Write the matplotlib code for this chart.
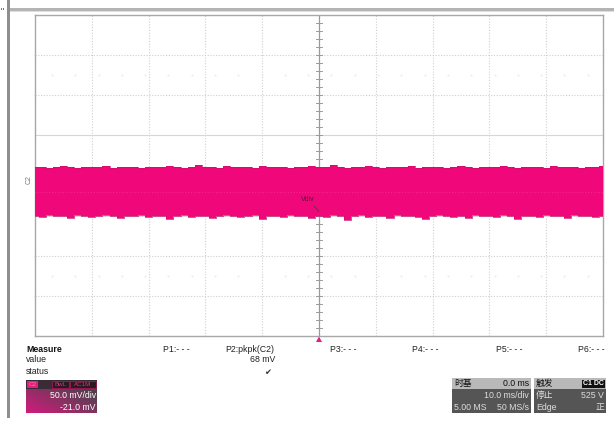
import numpy as np
import matplotlib
matplotlib.use("Agg")
import matplotlib.pyplot as plt
from matplotlib.patches import Rectangle, Polygon

plt.rcParams['font.family'] = ['Liberation Sans', 'Noto Sans CJK SC', 'DejaVu Sans']

time_ms_per_div = 10.0
volt_mv_per_div = 50.0
n_xdiv = 10
n_ydiv = 8
# envelope of the noisy C2 trace (mV), sampled across the 100 ms screen
time_ms = np.linspace(-50, 50, 81)
upper_mv = [10, 11, 9, 10, 12, 10, 9, 11, 10, 10, 12, 9, 10, 11, 10, 9, 11, 10, 10, 12,
            11, 9, 10, 13, 11, 10, 9, 12, 10, 11, 10, 9, 12, 10, 11, 10, 9, 10, 11, 12,
            10, 11, 13, 10, 9, 11, 10, 12, 10, 9, 11, 10, 10, 12, 9, 10, 11, 10, 9, 11,
            12, 10, 9, 11, 10, 10, 12, 11, 9, 10, 11, 10, 9, 12, 10, 11, 10, 9, 11, 10, 12]
lower_mv = [-50, -52, -49, -51, -50, -53, -49, -50, -52, -51, -49, -50, -53, -51, -50, -49, -52, -50, -51, -54,
            -50, -49, -52, -50, -51, -53, -50, -49, -51, -52, -50, -49, -54, -51, -50, -52, -49, -51, -50, -53,
            -50, -52, -49, -51, -55, -50, -49, -52, -51, -50, -53, -49, -51, -50, -52, -54, -50, -49, -51, -52,
            -50, -53, -49, -51, -50, -52, -49, -50, -54, -51, -50, -52, -49, -51, -50, -53, -49, -51, -50, -52, -50]
measure_labels = ["P1:- - -", "P2:pkpk(C2)", "P3:- - -", "P4:- - -", "P5:- - -", "P6:- - -"]
p2_value = "68 mV"
ch_scale = "50.0 mV/div"
ch_offset = "-21.0 mV"

W, H = 614, 424
fig = plt.figure(figsize=(W / 100, H / 100), dpi=100)
fig.patch.set_facecolor('white')

# ---- main graticule axes ----
L, T, R, B = 35, 15, 603, 336
ax = fig.add_axes([L / W, (H - B) / H, (R - L) / W, (B - T) / H])
xmax = n_xdiv / 2 * time_ms_per_div
ymax = n_ydiv / 2 * volt_mv_per_div
ax.set_xlim(-xmax, xmax)
ax.set_ylim(-ymax, ymax)
ax.set_xticks([]); ax.set_yticks([])
for s in ax.spines.values():
    s.set_color('#a8a8a8'); s.set_linewidth(1.0)

grid_c = '#cfcfcf'
for i in range(1, n_xdiv):
    x = -xmax + i * time_ms_per_div
    if abs(x) < 1e-9:
        continue
    ax.axvline(x, color=grid_c, lw=0.8, ls=(0, (1, 1.5)), zorder=1)
for j in range(1, n_ydiv):
    y = -ymax + j * volt_mv_per_div
    if abs(y) < 1e-9:
        continue
    if abs(y) == volt_mv_per_div:
        ax.axhline(y, color='#d6d6d6', lw=0.8, zorder=1)
    else:
        ax.axhline(y, color=grid_c, lw=0.8, ls=(0, (1, 1.5)), zorder=1)
# centre axes with minor ticks
ax.axvline(0, color='#9a9a9a', lw=0.9, zorder=1)
ax.axhline(0, color='#9a9a9a', lw=0.9, zorder=1)
for yy in np.arange(-ymax, ymax + 1, volt_mv_per_div / 5):
    ax.plot([-0.5, 0.5], [yy, yy], color='#9a9a9a', lw=0.7, zorder=1)
for xx in np.arange(-xmax, xmax + 0.1, time_ms_per_div / 5):
    ax.plot([xx, xx], [-3, 3], color='#9a9a9a', lw=0.7, zorder=1)

# faint marker rows
for yy in (ymax - 1.5 * volt_mv_per_div, -ymax + 1.5 * volt_mv_per_div):
    for xx in np.arange(-xmax + 3, xmax, 4.1):
        ax.plot(xx, yy, marker='.', ms=1.0, color='#ebebeb', zorder=1)

# trace
ax.fill_between(time_ms, lower_mv, upper_mv, step='mid', color='#f0087a', lw=0, zorder=3)
ax.step(time_ms, upper_mv, where='mid', color='#c8106a', lw=0.5, zorder=3.5)
ax.step(time_ms, lower_mv, where='mid', color='#c8106a', lw=0.5, zorder=3.5)
ax.axhline(-21, xmin=0, xmax=1, color='#f5479a', lw=0.5, ls=(0, (1, 3)), zorder=4)

# cursor note
ax.annotate("Vdiv", xy=(0, -45), xytext=(-0.7, -30), fontsize=5, color='#402030',
            ha='right', va='center', zorder=5,
            arrowprops=dict(arrowstyle='-', color='#503040', lw=0.5, shrinkA=0, shrinkB=0))

# ---- overlay in pixel coordinates ----
ov = fig.add_axes([0, 0, 1, 1])
ov.set_xlim(0, W); ov.set_ylim(H, 0)
ov.axis('off')
ov.patch.set_visible(False)

# window frame bars
ov.add_patch(Rectangle((8, 7.5), W - 8, 3, color='#b4b4b4', lw=0))
ov.add_patch(Rectangle((8, 11), W - 8, 1, color='#dedede', lw=0))
ov.add_patch(Rectangle((7, 0), 3, 418, color='#8e8e8e', lw=0))
ov.add_patch(Rectangle((0.5, 8), 1.5, 2, color='#777777', lw=0))
ov.add_patch(Rectangle((2.8, 8), 1.5, 2, color='#777777', lw=0))

# channel label
ov.text(29.5, 180, "C2", rotation=90, fontsize=5, color='#777777', ha='center', va='center')
# trigger position marker
ov.add_patch(Polygon([[316, 342], [322, 342], [319, 336.5]], closed=True, color='#e02080', lw=0))

fs = 6.3
ov.text(26, 349, "Measure", fontsize=fs, fontweight='bold', va='center', color='#111111')
ov.text(26, 360, "value", fontsize=fs, va='center', color='#222222')
ov.text(26, 371, "status", fontsize=fs, va='center', color='#222222')
px = [163, 225, 330, 412, 496, 578]
for x, lab in zip(px, measure_labels):
    ov.text(x, 349, lab, fontsize=fs, va='center', color='#222222')
ov.text(275, 360, p2_value, fontsize=fs, va='center', ha='right', color='#222222')
ov.text(268, 372, "\u2714", fontsize=6, va='center', ha='center', color='#333333',
        family=['DejaVu Sans'])

# channel box with gradient
grad = np.zeros((40, 80, 3))
c1 = np.array([0.30, 0.26, 0.30])
c2 = np.array([0.85, 0.10, 0.50])
for i in range(40):
    for j in range(80):
        t = np.clip(0.55 * i / 39 + 0.6 * (1 - j / 79) - 0.2, 0, 1)
        grad[i, j] = c1 * (1 - t) + c2 * t
ov.imshow(grad, extent=(26, 97, 413, 380), aspect='auto', zorder=2)
ov.add_patch(Rectangle((26, 380), 71, 9, color='#3a2c36', lw=0, zorder=3))
ov.add_patch(Rectangle((27, 381), 11, 7, color='#e0207a', lw=0, zorder=4))
ov.text(32.5, 384.5, "C2", fontsize=4.5, color='#ff70b0', ha='center', va='center', zorder=5)
ov.add_patch(Rectangle((52, 381), 17, 7, fc='#2a1a22', ec='#c01060', lw=0.5, zorder=4))
ov.text(60.5, 384.5, "BwL", fontsize=4.5, color='#e0307a', ha='center', va='center', zorder=5)
ov.add_patch(Rectangle((70, 381), 26, 7, fc='#2a1a22', ec='#c01060', lw=0.5, zorder=4))
ov.text(83, 384.5, "AC1M", fontsize=4.5, color='#e0307a', ha='center', va='center', zorder=5)
ov.text(96, 396, ch_scale, fontsize=fs, color='white', ha='right', va='center', zorder=5)
ov.text(96, 407, ch_offset, fontsize=fs, color='white', ha='right', va='center', zorder=5)

# timebase box
ov.add_patch(Rectangle((452, 378), 79, 35, color='#555555', lw=0))
ov.add_patch(Rectangle((452, 378), 79, 11, color='#b9b9b9', lw=0))
ov.text(454, 383.5, "时基", fontsize=fs, color='#111111', va='center')
ov.text(529, 383.5, "0.0 ms", fontsize=fs, color='#111111', va='center', ha='right')
ov.text(529, 395.5, "10.0 ms/div", fontsize=fs, color='#dddddd', va='center', ha='right')
ov.text(454, 407, "5.00 MS", fontsize=fs, color='#dddddd', va='center')
ov.text(529, 407, "50 MS/s", fontsize=fs, color='#dddddd', va='center', ha='right')

# trigger box
ov.add_patch(Rectangle((534, 378), 72, 35, color='#555555', lw=0))
ov.add_patch(Rectangle((534, 378), 72, 11, color='#b9b9b9', lw=0))
ov.text(536, 383.5, "触发", fontsize=fs, color='#111111', va='center')
ov.add_patch(Rectangle((582, 379.5), 23, 8, color='#111111', lw=0))
ov.text(593.5, 383.5, "C1 DC", fontsize=5, color='white', va='center', ha='center', fontweight='bold')
ov.text(536, 395.5, "停止", fontsize=fs, color='#dddddd', va='center')
ov.text(604, 395.5, "525 V", fontsize=fs, color='#dddddd', va='center', ha='right')
ov.text(536, 407, "Edge", fontsize=fs, color='#dddddd', va='center')
ov.text(604, 407, "正", fontsize=fs, color='#dddddd', va='center', ha='right')

fig.savefig("out.png", dpi=100)
